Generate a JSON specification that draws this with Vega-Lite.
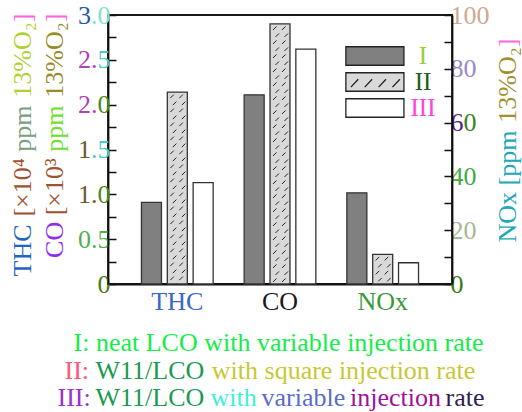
{
  "$schema": "https://vega.github.io/schema/vega-lite/v6.json",
  "autosize": {"type": "none"},
  "padding": {"left": 108, "top": 15, "right": 70, "bottom": 128},
  "width": 344,
  "height": 269,
  "data": {"values": [
    {"group": "THC", "series": "I", "value": 0.91},
    {"group": "THC", "series": "II", "value": 2.14},
    {"group": "THC", "series": "III", "value": 1.13},
    {"group": "CO", "series": "I", "value": 2.11},
    {"group": "CO", "series": "II", "value": 2.9},
    {"group": "CO", "series": "III", "value": 2.62},
    {"group": "NOx", "series": "I", "value": 33.9},
    {"group": "NOx", "series": "II", "value": 11.0},
    {"group": "NOx", "series": "III", "value": 7.9}
  ]},
  "resolve": {"scale": {"y": "independent"}, "axis": {"x": "independent", "y": "independent"}},
  "layer": [
    {
      "transform": [{"filter": "datum.group != 'NOx'"}],
      "mark": {"type": "bar", "stroke": "#333333", "strokeWidth": 1.3},
      "encoding": {
        "x": {"field": "group", "type": "nominal", "sort": null,
          "scale": {"domain": ["THC", "CO", "NOx"], "paddingInner": 0, "paddingOuter": 0.175},
          "axis": {"orient": "bottom", "title": null, "ticks": false, "labelAngle": 0, "labelPadding": 4, "domainColor": "#111111", "domainWidth": 1.8,
            "labelColor": {"expr": "datum.value == 'THC' ? '#3a66cc' : datum.value == 'CO' ? '#1a1a1a' : '#3a9a3a'"}}},
        "xOffset": {"field": "series", "type": "nominal", "scale": {"domain": ["I", "II", "III"], "paddingInner": 0.226, "paddingOuter": 0.6}},
        "y": {"field": "value", "type": "quantitative", "scale": {"domain": [0, 3]},
          "axis": {"orient": "left", "title": null, "values": [0, 0.25, 0.5, 0.75, 1, 1.25, 1.5, 1.75, 2, 2.25, 2.5, 2.75, 3],
            "tickSize": -8, "tickWidth": 1.5, "tickColor": "#111111", "domainColor": "#111111", "domainWidth": 1.8, "labelPadding": 6,
            "labelExpr": "datum.value == 0.5 ? '0.5' : datum.value == 0 ? '0' : ''",
            "labelColor": {"expr": "datum.value == 0.5 ? '#50b050' : '#4a7a18'"}}},
        "fill": {"field": "series", "type": "nominal",
          "scale": {"domain": ["I", "II", "III"], "range": ["#808080", "#d9d9d9", "#ffffff"]},
          "legend": {"orient": "none", "legendX": 254.4, "legendY": 28.5, "title": null, "padding": 0,
            "symbolType": "M-3.14,-1H3.14V1H-3.14Z", "symbolSize": 342, "symbolStrokeColor": "#222222", "symbolStrokeWidth": 1.3, "symbolOpacity": 1,
            "labelFont": "Liberation Serif", "labelFontSize": 25, "labelAlign": "center", "labelOffset": 35.6, "rowPadding": 0,
            "encode": {
              "symbols": {"update": {"shape": {"signal": "datum.value == 'II' ? 'M-3.14,-1H3.14V1H-3.14ZM-2.6,0.55L-1.8,-0.3M-1.1,0.55L-0.3,-0.3M0.4,0.55L1.2,-0.3M1.9,0.55L2.7,-0.3' : 'M-3.14,-1H3.14V1H-3.14Z'"}}},
              "labels": {"update": {"fill": {"signal": "datum.label == 'I' ? '#9acd32' : datum.label == 'II' ? '#1e5a1e' : '#ff44dd'"}}}
            }}}
      }
    },
    {
      "transform": [{"filter": "datum.group == 'NOx'"}],
      "mark": {"type": "bar", "stroke": "#333333", "strokeWidth": 1.3},
      "encoding": {
        "x": {"field": "group", "type": "nominal", "sort": null, "axis": null},
        "xOffset": {"field": "series", "type": "nominal"},
        "y": {"field": "value", "type": "quantitative", "scale": {"domain": [0, 100]},
          "axis": {"orient": "right", "title": null, "values": [0, 10, 20, 30, 40, 50, 60, 70, 80, 90, 100],
            "tickSize": -8, "tickWidth": 1.5, "tickColor": "#111111", "domainColor": "#111111", "domainWidth": 1.8, "labelPadding": 6,
            "labelExpr": "datum.value == 60 ? '6' : datum.value % 20 == 0 ? datum.label : ''",
            "labelColor": {"expr": "datum.value == 100 ? '#d0a890' : datum.value == 80 ? '#9a88cc' : datum.value == 60 ? '#5a1a88' : datum.value == 40 ? '#44aa44' : datum.value == 20 ? '#a8b890' : '#3a7a10'"}}},
        "fill": {"field": "series", "type": "nominal",
          "scale": {"domain": ["I", "II", "III"], "range": ["#808080", "#d9d9d9", "#ffffff"]},
          "legend": {"orient": "none", "legendX": 254.4, "legendY": 28.5, "title": null, "padding": 0,
            "symbolType": "M-3.14,-1H3.14V1H-3.14Z", "symbolSize": 342, "symbolStrokeColor": "#222222", "symbolStrokeWidth": 1.3, "symbolOpacity": 1,
            "labelFont": "Liberation Serif", "labelFontSize": 25, "labelAlign": "center", "labelOffset": 35.6, "rowPadding": 0,
            "encode": {
              "symbols": {"update": {"shape": {"signal": "datum.value == 'II' ? 'M-3.14,-1H3.14V1H-3.14ZM-2.6,0.55L-1.8,-0.3M-1.1,0.55L-0.3,-0.3M0.4,0.55L1.2,-0.3M1.9,0.55L2.7,-0.3' : 'M-3.14,-1H3.14V1H-3.14Z'"}}},
              "labels": {"update": {"fill": {"signal": "datum.label == 'I' ? '#9acd32' : datum.label == 'II' ? '#1e5a1e' : '#ff44dd'"}}}
            }}}
      }
    },
    {
      "transform": [{"filter": "datum.group != 'NOx' && datum.series == 'II'"}],
      "mark": {"type": "point", "filled": false, "size": 4, "stroke": "#222222", "strokeWidth": 1, "opacity": 1, "clip": true,
        "shape": "M-7,6L-3.5,2.5M2,6L5.5,2.5M-4.5,13L-1,9.5M4.5,13L8,9.5M-7,20L-3.5,16.5M2,20L5.5,16.5M-4.5,27L-1,23.5M4.5,27L8,23.5M-7,34L-3.5,30.5M2,34L5.5,30.5M-4.5,41L-1,37.5M4.5,41L8,37.5M-7,48L-3.5,44.5M2,48L5.5,44.5M-4.5,55L-1,51.5M4.5,55L8,51.5M-7,62L-3.5,58.5M2,62L5.5,58.5M-4.5,69L-1,65.5M4.5,69L8,65.5M-7,76L-3.5,72.5M2,76L5.5,72.5M-4.5,83L-1,79.5M4.5,83L8,79.5M-7,90L-3.5,86.5M2,90L5.5,86.5M-4.5,97L-1,93.5M4.5,97L8,93.5M-7,104L-3.5,100.5M2,104L5.5,100.5M-4.5,111L-1,107.5M4.5,111L8,107.5M-7,118L-3.5,114.5M2,118L5.5,114.5M-4.5,125L-1,121.5M4.5,125L8,121.5M-7,132L-3.5,128.5M2,132L5.5,128.5M-4.5,139L-1,135.5M4.5,139L8,135.5M-7,146L-3.5,142.5M2,146L5.5,142.5M-4.5,153L-1,149.5M4.5,153L8,149.5M-7,160L-3.5,156.5M2,160L5.5,156.5M-4.5,167L-1,163.5M4.5,167L8,163.5M-7,174L-3.5,170.5M2,174L5.5,170.5M-4.5,181L-1,177.5M4.5,181L8,177.5M-7,188L-3.5,184.5M2,188L5.5,184.5M-4.5,195L-1,191.5M4.5,195L8,191.5M-7,202L-3.5,198.5M2,202L5.5,198.5M-4.5,209L-1,205.5M4.5,209L8,205.5M-7,216L-3.5,212.5M2,216L5.5,212.5M-4.5,223L-1,219.5M4.5,223L8,219.5M-7,230L-3.5,226.5M2,230L5.5,226.5M-4.5,237L-1,233.5M4.5,237L8,233.5M-7,244L-3.5,240.5M2,244L5.5,240.5M-4.5,251L-1,247.5M4.5,251L8,247.5M-7,258L-3.5,254.5M2,258L5.5,254.5M-4.5,265L-1,261.5M4.5,265L8,261.5"},
      "encoding": {
        "x": {"field": "group", "type": "nominal", "sort": null, "axis": null},
        "xOffset": {"field": "series", "type": "nominal"},
        "y": {"field": "value", "type": "quantitative", "scale": {"domain": [0, 3]}, "axis": null}
      }
    },
    {
      "transform": [{"filter": "datum.group == 'NOx' && datum.series == 'II'"}],
      "mark": {"type": "point", "filled": false, "size": 4, "stroke": "#222222", "strokeWidth": 1, "opacity": 1, "clip": true,
        "shape": "M-7,6L-3.5,2.5M2,6L5.5,2.5M-4.5,13L-1,9.5M4.5,13L8,9.5M-7,20L-3.5,16.5M2,20L5.5,16.5M-4.5,27L-1,23.5M4.5,27L8,23.5M-7,34L-3.5,30.5M2,34L5.5,30.5M-4.5,41L-1,37.5M4.5,41L8,37.5"},
      "encoding": {
        "x": {"field": "group", "type": "nominal", "sort": null, "axis": null},
        "xOffset": {"field": "series", "type": "nominal"},
        "y": {"field": "value", "type": "quantitative", "scale": {"domain": [0, 100]}, "axis": null}
      }
    },
    {
      "data": {"values": []},
      "mark": "bar",
      "encoding": {
        "x": {"field": "group", "type": "nominal", "axis": {"orient": "bottom", "labels": false, "ticks": false, "domain": false, "title": "I: neat LCO with variable injection rate", "titleColor": "#14ee48", "titleX": -35, "titleY": 66, "titleAngle": 0, "titleAlign": "left"}},
        "y": {"field": "value", "type": "quantitative", "scale": {"domain": [0, 3]},
          "axis": {"orient": "left", "title": null, "values": [1, 1.5, 2, 2.5, 3], "tickSize": -8, "tickOpacity": 0, "domain": false, "labelPadding": 6,
            "labelExpr": "datum.value == 3 ? '.0' : datum.value == 2.5 ? '5' : datum.value == 2 ? '0' : datum.value == 1.5 ? '.5' : '0'",
            "labelColor": {"expr": "datum.value == 3 ? '#80e0d0' : (datum.value == 2.5 || datum.value == 1.5) ? '#48c8cc' : '#4a8a20'"}}}
      }
    },
    {
      "data": {"values": []},
      "mark": "bar",
      "encoding": {
        "y": {"field": "value", "type": "quantitative", "scale": {"domain": [0, 3]},
          "axis": {"orient": "left", "title": null, "values": [1.5, 3], "tickSize": -8, "tickOpacity": 0, "domain": false, "labelPadding": 25.5,
            "labelExpr": "datum.value == 3 ? '3' : '1'",
            "labelColor": {"expr": "datum.value == 3 ? '#2a5aaa' : '#6a5a30'"}}}
      }
    },
    {
      "data": {"values": []},
      "mark": "bar",
      "encoding": {
        "y": {"field": "value", "type": "quantitative", "scale": {"domain": [0, 3]},
          "axis": {"orient": "left", "title": null, "values": [1, 2, 2.5], "tickSize": -8, "tickOpacity": 0, "domain": false, "labelPadding": 19,
            "labelExpr": "datum.value == 1 ? '1.' : '2.'",
            "labelColor": {"expr": "datum.value == 1 ? '#6a5a30' : '#b040b8'"}}}
      }
    },
    {
      "data": {"values": []},
      "mark": "bar",
      "encoding": {
        "x": {"field": "group", "type": "nominal", "axis": {"orient": "bottom", "labels": false, "ticks": false, "domain": false, "title": "II:", "titleColor": "#ff5577", "titleX": -44, "titleY": 94, "titleAngle": 0, "titleAlign": "left"}},
        "y": {"field": "value", "type": "quantitative", "scale": {"domain": [0, 100]},
          "axis": {"orient": "right", "title": null, "values": [60], "tickSize": -8, "tickOpacity": 0, "domain": false, "labelPadding": 19,
            "labelExpr": "'0'", "labelColor": "#3a8020"}}
      }
    },
    {
      "data": {"values": []},
      "mark": "bar",
      "encoding": {
        "x": {"field": "group", "type": "nominal", "axis": {"orient": "bottom", "labels": false, "ticks": false, "domain": false, "title": "W11/LCO", "titleColor": "#1a9a50", "titleX": -13, "titleY": 94, "titleAngle": 0, "titleAlign": "left"}},
        "y": {"field": "value", "type": "quantitative", "scale": {"domain": [0, 1]},
          "axis": {"orient": "left", "labels": false, "ticks": false, "domain": false, "title": "]", "titleColor": "#ff66dd", "titleX": -77.5, "titleY": -2, "titleAngle": 270, "titleAlign": "right"}}
      }
    },
    {
      "data": {"values": []},
      "mark": "bar",
      "encoding": {
        "x": {"field": "group", "type": "nominal", "axis": {"orient": "bottom", "labels": false, "ticks": false, "domain": false, "title": "with square injection rate", "titleColor": "#c8c832", "titleX": 103.3, "titleY": 94, "titleAngle": 0, "titleAlign": "left"}},
        "y": {"field": "value", "type": "quantitative", "scale": {"domain": [0, 1]},
          "axis": {"orient": "left", "labels": false, "ticks": false, "domain": false, "title": "13%O₂", "titleColor": "#b0d030", "titleX": -77.5, "titleY": 6.7, "titleAngle": 270, "titleAlign": "right"}}
      }
    },
    {
      "data": {"values": []},
      "mark": "bar",
      "encoding": {
        "x": {"field": "group", "type": "nominal", "axis": {"orient": "bottom", "labels": false, "ticks": false, "domain": false, "title": "III:", "titleColor": "#9b30d0", "titleX": -51, "titleY": 121, "titleAngle": 0, "titleAlign": "left"}},
        "y": {"field": "value", "type": "quantitative", "scale": {"domain": [0, 1]},
          "axis": {"orient": "left", "labels": false, "ticks": false, "domain": false, "title": "ppm", "titleColor": "#7a9e80", "titleX": -77.5, "titleY": 90, "titleAngle": 270, "titleAlign": "right"}}
      }
    },
    {
      "data": {"values": []},
      "mark": "bar",
      "encoding": {
        "x": {"field": "group", "type": "nominal", "axis": {"orient": "bottom", "labels": false, "ticks": false, "domain": false, "title": "W11/LCO", "titleColor": "#1a9a50", "titleX": -13, "titleY": 121, "titleAngle": 0, "titleAlign": "left"}},
        "y": {"field": "value", "type": "quantitative", "scale": {"domain": [0, 1]},
          "axis": {"orient": "left", "labels": false, "ticks": false, "domain": false, "title": "[×10⁴", "titleColor": "#a0522d", "titleX": -77.5, "titleY": 142.7, "titleAngle": 270, "titleAlign": "right"}}
      }
    },
    {
      "data": {"values": []},
      "mark": "bar",
      "encoding": {
        "x": {"field": "group", "type": "nominal", "axis": {"orient": "bottom", "labels": false, "ticks": false, "domain": false, "title": "with", "titleColor": "#40f0d8", "titleX": 102, "titleY": 121, "titleAngle": 0, "titleAlign": "left"}},
        "y": {"field": "value", "type": "quantitative", "scale": {"domain": [0, 1]},
          "axis": {"orient": "left", "labels": false, "ticks": false, "domain": false, "title": "THC", "titleColor": "#1f66c0", "titleX": -77.5, "titleY": 208.9, "titleAngle": 270, "titleAlign": "right"}}
      }
    },
    {
      "data": {"values": []},
      "mark": "bar",
      "encoding": {
        "x": {"field": "group", "type": "nominal", "axis": {"orient": "bottom", "labels": false, "ticks": false, "domain": false, "title": "variable", "titleColor": "#5a6ccc", "titleX": 153, "titleY": 121, "titleAngle": 0, "titleAlign": "left"}},
        "y": {"field": "value", "type": "quantitative", "scale": {"domain": [0, 1]},
          "axis": {"orient": "left", "labels": false, "ticks": false, "domain": false, "title": "]", "titleColor": "#ff66dd", "titleX": -46, "titleY": -2, "titleAngle": 270, "titleAlign": "right"}}
      }
    },
    {
      "data": {"values": []},
      "mark": "bar",
      "encoding": {
        "x": {"field": "group", "type": "nominal", "axis": {"orient": "bottom", "labels": false, "ticks": false, "domain": false, "title": "injection", "titleColor": "#a0109a", "titleX": 241.5, "titleY": 121, "titleAngle": 0, "titleAlign": "left"}},
        "y": {"field": "value", "type": "quantitative", "scale": {"domain": [0, 1]},
          "axis": {"orient": "left", "labels": false, "ticks": false, "domain": false, "title": "13%O₂", "titleColor": "#9a8a28", "titleX": -46, "titleY": 6.7, "titleAngle": 270, "titleAlign": "right"}}
      }
    },
    {
      "data": {"values": []},
      "mark": "bar",
      "encoding": {
        "x": {"field": "group", "type": "nominal", "axis": {"orient": "bottom", "labels": false, "ticks": false, "domain": false, "title": "rate", "titleColor": "#302050", "titleX": 337, "titleY": 121, "titleAngle": 0, "titleAlign": "left"}},
        "y": {"field": "value", "type": "quantitative", "scale": {"domain": [0, 1]},
          "axis": {"orient": "left", "labels": false, "ticks": false, "domain": false, "title": "ppm", "titleColor": "#70e030", "titleX": -46, "titleY": 90, "titleAngle": 270, "titleAlign": "right"}}
      }
    },
    {
      "data": {"values": []},
      "mark": "bar",
      "encoding": {
        "y": {"field": "value", "type": "quantitative", "scale": {"domain": [0, 1]},
          "axis": {"orient": "left", "labels": false, "ticks": false, "domain": false, "title": "[×10³", "titleColor": "#a0522d", "titleX": -46, "titleY": 142.7, "titleAngle": 270, "titleAlign": "right"}}
      }
    },
    {
      "data": {"values": []},
      "mark": "bar",
      "encoding": {
        "y": {"field": "value", "type": "quantitative", "scale": {"domain": [0, 1]},
          "axis": {"orient": "left", "labels": false, "ticks": false, "domain": false, "title": "CO", "titleColor": "#8f2bf0", "titleX": -46, "titleY": 206.3, "titleAngle": 270, "titleAlign": "right"}}
      }
    },
    {
      "data": {"values": []},
      "mark": "bar",
      "encoding": {
        "y": {"field": "value", "type": "quantitative", "scale": {"domain": [0, 1]},
          "axis": {"orient": "right", "labels": false, "ticks": false, "domain": false, "title": "]", "titleColor": "#ff66ee", "titleX": 63, "titleY": 23, "titleAngle": 270, "titleAlign": "right"}}
      }
    },
    {
      "data": {"values": []},
      "mark": "bar",
      "encoding": {
        "y": {"field": "value", "type": "quantitative", "scale": {"domain": [0, 1]},
          "axis": {"orient": "right", "labels": false, "ticks": false, "domain": false, "title": "13%O₂", "titleColor": "#a09030", "titleX": 63, "titleY": 31.7, "titleAngle": 270, "titleAlign": "right"}}
      }
    },
    {
      "data": {"values": []},
      "mark": "bar",
      "encoding": {
        "y": {"field": "value", "type": "quantitative", "scale": {"domain": [0, 1]},
          "axis": {"orient": "right", "labels": false, "ticks": false, "domain": false, "title": "NOx [ppm", "titleColor": "#20a8b8", "titleX": 63, "titleY": 115, "titleAngle": 270, "titleAlign": "right"}}
      }
    }
  ],
  "config": {
    "view": {"stroke": "#1a1a1a", "strokeWidth": 1.8},
    "font": "Liberation Serif",
    "axis": {"titleFont": "Liberation Serif", "titleFontSize": 26, "titleFontWeight": "normal", "titleLimit": 1000, "titleBaseline": "alphabetic",
      "labelFont": "Liberation Serif", "labelFontSize": 26, "grid": false, "labelOverlap": false, "labelFlush": false}
  }
}
